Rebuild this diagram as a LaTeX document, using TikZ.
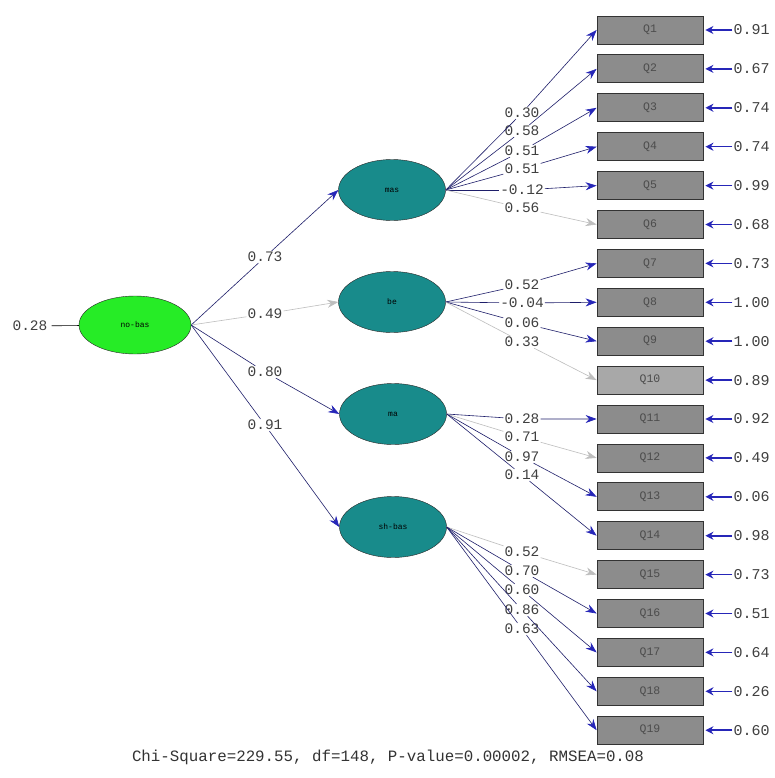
\documentclass[tikz,border=0pt]{standalone}
\usepackage{fontspec}
\setmonofont{Liberation Mono}
\usepackage{tikz}
\usetikzlibrary{shapes.geometric, arrows, arrows.meta, positioning}

\definecolor{latgreen}{HTML}{26EC26}
\definecolor{latteal}{HTML}{188B8B}
\definecolor{boxgray}{HTML}{8C8C8C}
\definecolor{boxlight}{HTML}{A8A8A8}
\definecolor{pathdark}{HTML}{1E1E6A}
\definecolor{pathblue}{HTML}{2626B8}
\definecolor{pathgray}{HTML}{BEBEBE}

\tikzstyle{latent} = [ellipse, draw=black!85, minimum width=107pt, minimum height=61pt, inner sep=0pt, fill=latteal, font=\ttfamily\fontsize{8}{9}\selectfont]
\tikzstyle{item} = [rectangle, draw=black!80, thick, fill=boxgray, minimum width=106pt, minimum height=28pt, text=black!70, font=\ttfamily\fontsize{11.5}{12}\selectfont]
\tikzstyle{coef} = [inner sep=1pt, text=black!75, font=\ttfamily\fontsize{14.5}{15}\selectfont]
\tikzstyle{errval} = [inner sep=1pt, anchor=west, text=black!75, font=\ttfamily\fontsize{15}{16}\selectfont]
\tikzstyle{load} = [pathdark, semithick]
\tikzstyle{loadarrow} = [pathdark, semithick, -{Stealth[length=11pt,width=8pt,color=pathblue]}]
\tikzstyle{faint} = [pathgray, semithick]
\tikzstyle{faintarrow} = [pathgray, semithick, -{Stealth[length=11pt,width=8pt]}]
\tikzstyle{errarrow} = [pathblue, line width=1.6pt, shorten >=2pt, -{Stealth[length=8pt,width=8pt]}]

\begin{document}
\begin{tikzpicture}[x=1pt, y=-1pt, node distance=10.1pt]
  \useasboundingbox[fill=white] (0,0) rectangle (775,778);

  % latent variables
  \node[latent, fill=latgreen, minimum width=112pt, minimum height=58pt] (nobas) at (135,325) {no-bas};
  \node[latent] (mas) at (392,190) {mas};
  \node[latent] (be) at (392,302) {be};
  \node[latent] (ma) at (393,414) {ma};
  \node[latent] (shbas) at (393,527) {sh-bas};

  % observed items
  \node[item] (q1) at (650,30) {Q1};
  \node[item, below=of q1] (q2) {Q2};
  \node[item, below=of q2] (q3) {Q3};
  \node[item, below=of q3] (q4) {Q4};
  \node[item, below=of q4] (q5) {Q5};
  \node[item, below=of q5] (q6) {Q6};
  \node[item, below=of q6] (q7) {Q7};
  \node[item, below=of q7] (q8) {Q8};
  \node[item, below=of q8] (q9) {Q9};
  \node[item, below=of q9, fill=boxlight] (q10) {Q10};
  \node[item, below=of q10] (q11) {Q11};
  \node[item, below=of q11] (q12) {Q12};
  \node[item, below=of q12] (q13) {Q13};
  \node[item, below=of q13] (q14) {Q14};
  \node[item, below=of q14] (q15) {Q15};
  \node[item, below=of q15] (q16) {Q16};
  \node[item, below=of q16] (q17) {Q17};
  \node[item, below=of q17] (q18) {Q18};
  \node[item, below=of q18] (q19) {Q19};

  % error variances
  \node[coef, inner sep=4pt] (e0) at (30,326) {0.28};
  \draw[black, semithick] (e0) -- (nobas);
  \node[errval, right=29pt of q1] (e1) {0.91};
  \node[errval, right=29pt of q2] (e2) {0.67};
  \node[errval, right=29pt of q3] (e3) {0.74};
  \node[errval, right=29pt of q4] (e4) {0.74};
  \node[errval, right=29pt of q5] (e5) {0.99};
  \node[errval, right=29pt of q6] (e6) {0.68};
  \node[errval, right=29pt of q7] (e7) {0.73};
  \node[errval, right=29pt of q8] (e8) {1.00};
  \node[errval, right=29pt of q9] (e9) {1.00};
  \node[errval, right=29pt of q10] (e10) {0.89};
  \node[errval, right=29pt of q11] (e11) {0.92};
  \node[errval, right=29pt of q12] (e12) {0.49};
  \node[errval, right=29pt of q13] (e13) {0.06};
  \node[errval, right=29pt of q14] (e14) {0.98};
  \node[errval, right=29pt of q15] (e15) {0.73};
  \node[errval, right=29pt of q16] (e16) {0.51};
  \node[errval, right=29pt of q17] (e17) {0.64};
  \node[errval, right=29pt of q18] (e18) {0.26};
  \node[errval, right=29pt of q19] (e19) {0.60};
  \draw[errarrow] (e1.west) -- (q1.east);
  \draw[errarrow] (e2.west) -- (q2.east);
  \draw[errarrow] (e3.west) -- (q3.east);
  \draw[errarrow] (e4.west) -- (q4.east);
  \draw[errarrow] (e5.west) -- (q5.east);
  \draw[errarrow] (e6.west) -- (q6.east);
  \draw[errarrow] (e7.west) -- (q7.east);
  \draw[errarrow] (e8.west) -- (q8.east);
  \draw[errarrow] (e9.west) -- (q9.east);
  \draw[errarrow] (e10.west) -- (q10.east);
  \draw[errarrow] (e11.west) -- (q11.east);
  \draw[errarrow] (e12.west) -- (q12.east);
  \draw[errarrow] (e13.west) -- (q13.east);
  \draw[errarrow] (e14.west) -- (q14.east);
  \draw[errarrow] (e15.west) -- (q15.east);
  \draw[errarrow] (e16.west) -- (q16.east);
  \draw[errarrow] (e17.west) -- (q17.east);
  \draw[errarrow] (e18.west) -- (q18.east);
  \draw[errarrow] (e19.west) -- (q19.east);

  % second order loadings
  \node[coef] (m1) at (265,257) {0.73};
  \node[coef] (m2) at (265,314) {0.49};
  \node[coef] (m3) at (265,372) {0.80};
  \node[coef] (m4) at (265,425) {0.91};
  \draw[load] (nobas.east) -- (m1);  \draw[loadarrow] (m1) -- (mas.west);
  \draw[faint] (nobas.east) -- (m2); \draw[faintarrow] (m2) -- (be.west);
  \draw[load] (nobas.east) -- (m3);  \draw[loadarrow] (m3) -- (ma.west);
  \draw[load] (nobas.east) -- (m4);  \draw[loadarrow] (m4) -- (shbas.west);

  % first order loadings: mas
  \node[coef] (l1) at (522,113) {0.30};
  \node[coef] (l2) at (522,131) {0.58};
  \node[coef] (l3) at (522,151) {0.51};
  \node[coef] (l4) at (522,169) {0.51};
  \node[coef] (l5) at (522,190) {-0.12};
  \node[coef] (l6) at (522,208) {0.56};
  \draw[load] (mas.east) -- (l1);  \draw[loadarrow] (l1) -- (q1.west);
  \draw[load] (mas.east) -- (l2);  \draw[loadarrow] (l2) -- (q2.west);
  \draw[load] (mas.east) -- (l3);  \draw[loadarrow] (l3) -- (q3.west);
  \draw[load] (mas.east) -- (l4);  \draw[loadarrow] (l4) -- (q4.west);
  \draw[load] (mas.east) -- (l5);  \draw[loadarrow] (l5) -- (q5.west);
  \draw[faint] (mas.east) -- (l6); \draw[faintarrow] (l6) -- (q6.west);

  % be
  \node[coef] (l7) at (522,285) {0.52};
  \node[coef] (l8) at (522,303) {-0.04};
  \node[coef] (l9) at (522,323) {0.06};
  \node[coef] (l10) at (522,342) {0.33};
  \draw[load] (be.east) -- (l7);   \draw[loadarrow] (l7) -- (q7.west);
  \draw[load] (be.east) -- (l8);   \draw[loadarrow] (l8) -- (q8.west);
  \draw[load] (be.east) -- (l9);   \draw[loadarrow] (l9) -- (q9.west);
  \draw[faint] (be.east) -- (l10); \draw[faintarrow] (l10) -- (q10.west);

  % ma
  \node[coef] (l11) at (522,419) {0.28};
  \node[coef] (l12) at (522,437) {0.71};
  \node[coef] (l13) at (522,457) {0.97};
  \node[coef] (l14) at (522,475) {0.14};
  \draw[load] (ma.east) -- (l11);  \draw[loadarrow] (l11) -- (q11.west);
  \draw[faint] (ma.east) -- (l12); \draw[faintarrow] (l12) -- (q12.west);
  \draw[load] (ma.east) -- (l13);  \draw[loadarrow] (l13) -- (q13.west);
  \draw[load] (ma.east) -- (l14);  \draw[loadarrow] (l14) -- (q14.west);

  % sh-bas
  \node[coef] (l15) at (522,552) {0.52};
  \node[coef] (l16) at (522,571) {0.70};
  \node[coef] (l17) at (522,590) {0.60};
  \node[coef] (l18) at (522,610) {0.86};
  \node[coef] (l19) at (522,629) {0.63};
  \draw[faint] (shbas.east) -- (l15); \draw[faintarrow] (l15) -- (q15.west);
  \draw[load] (shbas.east) -- (l16);  \draw[loadarrow] (l16) -- (q16.west);
  \draw[load] (shbas.east) -- (l17);  \draw[loadarrow] (l17) -- (q17.west);
  \draw[load] (shbas.east) -- (l18);  \draw[loadarrow] (l18) -- (q18.west);
  \draw[load] (shbas.east) -- (l19);  \draw[loadarrow] (l19) -- (q19.west);

  % fit statistics
  \node[text=black!80, font=\ttfamily\fontsize{15.8}{17}\selectfont] (fit) at (388,757)
    {Chi-Square=229.55, df=148, P-value=0.00002, RMSEA=0.08};
\end{tikzpicture}
\end{document}
